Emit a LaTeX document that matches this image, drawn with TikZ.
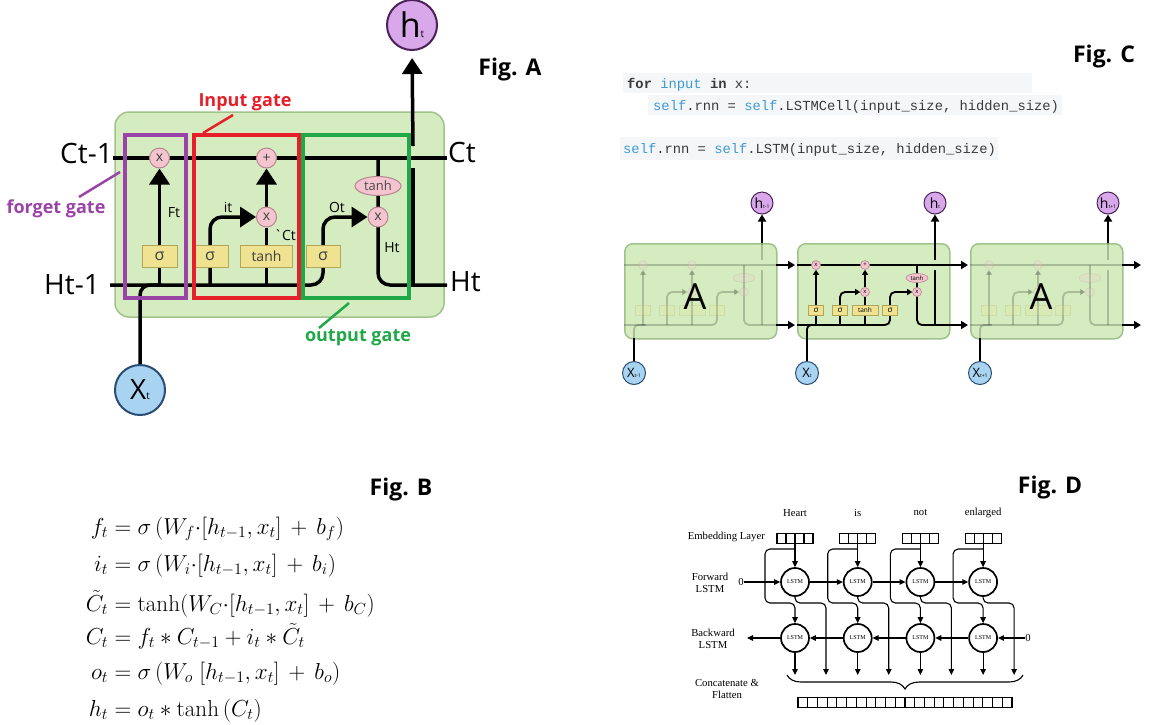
\documentclass[tikz,border=0pt]{standalone}
\usepackage{graphicx}
\usepackage{fontspec}
\newfontfamily\osans{Open Sans}
\newfontfamily\tserif{Liberation Serif}
\newfontfamily\lmono{Liberation Mono}
\usetikzlibrary{arrows.meta,shapes.geometric,decorations.pathreplacing}

\pgfdeclarelayer{paper}
\pgfdeclarelayer{cells}
\pgfdeclarelayer{wires}
\pgfsetlayers{paper,cells,wires,main}

\newcommand{\setsz}[1]{\fontsize{#1}{#1}\selectfont}
\newcommand{\hsub}[4]{{\setsz{#1}#2}{\setsz{#3}#4}}
\newcommand{\eqline}[1]{\scalebox{1.115}{\setsz{20.74}$#1$}}

\definecolor{cellfill}{HTML}{D4ECBF}
\definecolor{celledge}{HTML}{A0C38C}
\definecolor{gatepink}{HTML}{F4C4CF}
\definecolor{gatepinkedge}{HTML}{B88592}
\definecolor{layeryellow}{HTML}{EFE290}
\definecolor{layeryellowedge}{HTML}{B3A658}
\definecolor{outpurple}{HTML}{D8A8EA}
\definecolor{outpurpleedge}{HTML}{4A2258}
\definecolor{inblue}{HTML}{A8D3F1}
\definecolor{inblueedge}{HTML}{2B4C72}
\definecolor{forgetcol}{HTML}{9B44A8}
\definecolor{inputcol}{HTML}{E5202A}
\definecolor{outputcol}{HTML}{20A848}
\definecolor{codebg}{HTML}{F5F6F7}
\definecolor{codeblue}{HTML}{3C9BD6}
\definecolor{codetext}{HTML}{3A3A3A}

\tikzset{
  % large cell
  cellA/.style={fill=cellfill, draw=celledge, line width=1.5pt, rounded corners=14pt},
  wireA/.style={line width=3.5pt, black},
  tipA/.style={-{Triangle[length=16pt,width=20pt]}},
  opA/.style={circle, fill=gatepink, draw=gatepinkedge, line width=1pt, minimum size=20pt,
    inner sep=0pt, font=\osans\setsz{14}, text=black!75},
  tanhA/.style={ellipse, fill=gatepink, draw=gatepinkedge, line width=1pt, minimum width=46pt,
    minimum height=19pt, inner sep=0pt, font=\osans\setsz{13}, text=black!70},
  layerA/.style={rectangle, fill=layeryellow, draw=layeryellowedge, line width=1pt,
    minimum height=22pt, inner sep=0pt, font=\osans\setsz{16}, text=black!75},
  gateframe/.style={line width=4pt},
  biglabel/.style={font=\osans\setsz{28}, inner sep=0pt},
  smalllabel/.style={font=\osans\setsz{14}, inner sep=0pt},
  gatename/.style={font=\osans\bfseries\setsz{18}, inner sep=0pt},
  figtitle/.style={font=\osans\bfseries\setsz{23}, inner sep=0pt},
  % unrolled chain
  cellC/.style={rectangle, rounded corners=8pt, fill=cellfill, draw=celledge, line width=1.5pt,
    minimum width=152pt, minimum height=95pt, inner sep=0pt},
  wireC/.style={line width=1.8pt, black},
  tipC/.style={-{Triangle[length=7pt,width=8pt]}},
  tipCs/.style={-{Triangle[length=5pt,width=6pt]}},
  opC/.style={circle, fill=gatepink, draw=gatepinkedge, line width=0.6pt, minimum size=9pt,
    inner sep=0pt, font=\osans\setsz{6}},
  tanhC/.style={ellipse, fill=gatepink, draw=gatepinkedge, line width=0.6pt, minimum width=22pt,
    minimum height=9pt, inner sep=0pt, font=\osans\setsz{6}},
  layerC/.style={rectangle, fill=layeryellow, draw=layeryellowedge, line width=0.6pt,
    minimum height=10pt, inner sep=0pt, font=\osans\setsz{8}},
  hC/.style={circle, fill=outpurple, draw=outpurpleedge, line width=1pt, minimum size=22pt,
    inner sep=0pt, font=\osans},
  xC/.style={circle, fill=inblue, draw=inblueedge, line width=1pt, minimum size=23pt,
    inner sep=0pt, font=\osans},
  code/.style={font=\lmono\setsz{13.8}, text=codetext, inner sep=0pt},
  % equations
  eqB/.style={inner sep=0pt},
  % bidirectional network
  lineD/.style={line width=1.1pt, black},
  tipD/.style={-{Triangle[length=6pt,width=5.5pt]}},
  lstmD/.style={circle, draw, line width=1.7pt, minimum size=28pt, inner sep=0pt,
    font=\tserif\setsz{6}},
  textD/.style={font=\tserif\fontsize{10.7}{12.5}\selectfont, inner sep=0pt},
  embD/.style={rectangle, draw, line width=1.1pt, minimum width=36pt, minimum height=9.5pt, inner sep=0pt},
}

\begin{document}
\begin{tikzpicture}[x=1pt,y=-1pt]
\useasboundingbox (0,0) rectangle (1155,724);
\begin{pgfonlayer}{paper}
  \fill[white] (0,0) rectangle (1155,724);
\end{pgfonlayer}

%==================== Fig. A : one LSTM cell ====================
\begin{pgfonlayer}{cells}
  \draw[cellA] (115,112) rectangle (444,317);
\end{pgfonlayer}
\coordinate (cL) at (113,158);
\coordinate (cR) at (447,158);
\coordinate (hL) at (110,285);
\coordinate (hR) at (447,285);
\coordinate (oBot) at (413,285);
\coordinate (oGapLow) at (413,168);
\coordinate (oGapHigh) at (413,146);

\node[opA] (fx) at (159.5,158) {x};
\node[opA] (px) at (266.5,158) {+};
\node[opA] (ix) at (266.5,217) {x};
\node[opA] (ox) at (378,217) {x};
\node[tanhA] (th) at (378,186) {tanh};
\node[layerA, minimum width=35pt] (s1) at (159.5,256) {σ};
\node[layerA, minimum width=36pt] (s2) at (210,256) {σ};
\node[layerA, minimum width=52pt, font=\osans\setsz{14}] (t1) at (266.5,256) {tanh};
\node[layerA, minimum width=34pt] (s4) at (323,256) {σ};
\node[circle, fill=outpurple, draw=outpurpleedge, line width=2pt, minimum size=50pt,
  inner sep=0pt, font=\osans] (htA) at (412,25) {\hsub{34}{h}{10}{t}};
\node[circle, fill=inblue, draw=inblueedge, line width=2pt, minimum size=50pt,
  inner sep=0pt, font=\osans] (xtA) at (140,390) {\hsub{28}{X}{10}{t}};

\begin{pgfonlayer}{wires}
  \draw[wireA] (cL) -- (cR);
  \draw[wireA, rounded corners=12pt, tipA] (hL) -- (s4 |- hL) -- (s4 |- ox) -- (ox.west);
  \draw[wireA, rounded corners=12pt] (th |- cL) -- (th |- hR) -- (hR);
  \draw[wireA] (oBot) -- (oGapLow);
  \draw[wireA, tipA, shorten >=7pt] (oGapHigh) -- (htA.south);
  \draw[wireA, tipA] (fx |- hL) -- (fx.south);
  \draw[wireA, rounded corners=12pt, tipA] (s2 |- hL) -- (s2 |- ix) -- (ix.west);
  \draw[wireA] (ix |- hL) -- (ix.south);
  \draw[wireA, tipA] (ix.north) -- (px.south);
  \draw[wireA, rounded corners=10pt] (xtA.north) -- (xtA |- hL) -- ++(22,0);
\end{pgfonlayer}

% gate frames
\draw[gateframe, draw=forgetcol] (125,135) rectangle (186,298);
\draw[gateframe, draw=inputcol] (194,135) rectangle (299,298);
\draw[gateframe, draw=outputcol] (303,135) rectangle (409,298);

% gate names with their pointers
\node[gatename, text=inputcol] (igl) at (245,102) {Input gate};
\node[gatename, text=forgetcol] (fgl) at (56,209) {forget gate};
\node[gatename, text=outputcol] (ogl) at (358,338) {output gate};
\coordinate (iTip) at (233,115);  \coordinate (iEnd) at (203,133);
\coordinate (fTip) at (120,172);  \coordinate (fEnd) at (79,197);
\coordinate (oTip) at (349,303);  \coordinate (oEnd) at (319,328);
\draw[inputcol, line width=2.5pt] (iTip) -- (iEnd);
\draw[forgetcol, line width=2.5pt] (fTip) -- (fEnd);
\draw[outputcol, line width=2.5pt] (oTip) -- (oEnd);

% state labels
\node[biglabel, anchor=east] (lCprev) at (113,153) {Ct-1};
\node[biglabel, anchor=east] (lHprev) at (100,285) {Ht-1};
\node[biglabel, anchor=west] (lCnext) at (448,152) {Ct};
\node[biglabel, anchor=west] (lHnext) at (450,282) {Ht};
\node[smalllabel] (lFt) at (174,213) {Ft};
\node[smalllabel] (lit) at (228,207) {it};
\node[smalllabel] (lOt) at (337,207) {Ot};
\node[smalllabel] (lCt) at (285,235) {\textasciigrave Ct};
\node[smalllabel] (lHt) at (392,248) {Ht};
\node[figtitle] (figA) at (510,70) {Fig. A};

%==================== Fig. C : code and unrolled chain ====================
\node[figtitle] (figC) at (1104,57) {Fig. C};
\fill[codebg] (623,73) rectangle (1032,93);
\fill[codebg] (648,95) rectangle (1062,115);
\fill[codebg] (620,137) rectangle (998,160);
\node[code, anchor=base west] (code1) at (627,88)
  {\textbf{for} \textcolor{codeblue}{input} \textbf{in} x:};
\node[code, anchor=base west] (code2) at (653,110)
  {\textcolor{codeblue}{self}.rnn = \textcolor{codeblue}{self}.LSTMCell(input\_size, hidden\_size)};
\node[code, anchor=base west] (code3) at (623,153)
  {\textcolor{codeblue}{self}.rnn = \textcolor{codeblue}{self}.LSTM(input\_size, hidden\_size)};

% three unrolled cells; the outer two show their inner wiring faded
\foreach \cnm/\cxx/\cfade/\csb/\cshow in {L/624/0.2/t-1/0, M/797/1/t/1, R/970/0.2/t+1/0} {
  \begin{pgfonlayer}{cells}
    \node[cellC, anchor=north west] (\cnm-box) at (\cxx,243) {};
  \end{pgfonlayer}
  \begin{scope}[shift={(\cxx,243)}]
    \coordinate (\cnm-tl) at (0,22);
    \coordinate (\cnm-tr) at (152,22);
    \coordinate (\cnm-bl) at (0,82);
    \coordinate (\cnm-br) at (152,82);
    \coordinate (\cnm-hx) at (138,0);
    \coordinate (\cnm-xin) at (10,95);
    \node[hC] (\cnm-h) at (138,-40) {\hsub{14}{h}{5}{\csb}};
    \node[xC] (\cnm-x) at (10,130) {\hsub{13}{X}{5}{\csb}};
    \begin{scope}[opacity=\cfade]
      \node[opC] (\cnm-fx) at (19,22) {\ifnum\cshow=1 x\fi};
      \node[opC] (\cnm-px) at (68,22) {\ifnum\cshow=1 +\fi};
      \node[opC] (\cnm-ix) at (68,49) {\ifnum\cshow=1 x\fi};
      \node[opC] (\cnm-ox) at (120,49) {\ifnum\cshow=1 x\fi};
      \node[tanhC] (\cnm-th) at (120,35) {\ifnum\cshow=1 tanh\fi};
      \node[layerC, minimum width=15pt] (\cnm-s1) at (19,67) {\ifnum\cshow=1 σ\fi};
      \node[layerC, minimum width=15pt] (\cnm-s2) at (43,67) {\ifnum\cshow=1 σ\fi};
      \node[layerC, minimum width=26pt, font=\osans\setsz{6.5}] (\cnm-t1) at (68,67) {\ifnum\cshow=1 tanh\fi};
      \node[layerC, minimum width=15pt] (\cnm-s4) at (93,67) {\ifnum\cshow=1 σ\fi};
    \end{scope}
  \end{scope}
  \begin{pgfonlayer}{wires}
    \begin{scope}[opacity=\cfade]
      \draw[wireC] (\cnm-tl) -- (\cnm-tr);
      \draw[wireC, rounded corners=5pt, tipCs] (\cnm-bl) -- (\cnm-s4 |- \cnm-bl) -- (\cnm-s4 |- \cnm-ox) -- (\cnm-ox.west);
      \draw[wireC, rounded corners=5pt] (\cnm-th |- \cnm-tl) -- (\cnm-th |- \cnm-bl) -- (\cnm-br);
      \draw[wireC] (\cnm-hx |- \cnm-bl) -- ++(0,-55);
      \draw[wireC] (\cnm-hx) -- ++(0,17);
      \draw[wireC, rounded corners=4pt] (\cnm-xin) -- (\cnm-xin |- \cnm-bl) -- ++(12,0);
      \draw[wireC, tipCs] (\cnm-fx |- \cnm-bl) -- (\cnm-fx.south);
      \draw[wireC, rounded corners=5pt, tipCs] (\cnm-s2 |- \cnm-bl) -- (\cnm-s2 |- \cnm-ix) -- (\cnm-ix.west);
      \draw[wireC] (\cnm-ix |- \cnm-bl) -- (\cnm-ix.south);
      \draw[wireC, tipCs] (\cnm-ix.north) -- (\cnm-px.south);
    \end{scope}
  \end{pgfonlayer}
  \draw[wireC, tipC] (\cnm-tr) -- ++(19,0);
  \draw[wireC, tipC] (\cnm-br) -- ++(19,0);
  \draw[wireC, tipC] (\cnm-hx) -- (\cnm-h.south);
  \draw[wireC] (\cnm-x.north) -- (\cnm-xin);
}
\node[font=\osans\setsz{36}, inner sep=0pt] (aL) at (695,297) {A};
\node[font=\osans\setsz{36}, inner sep=0pt] (aR) at (1041,297) {A};

%==================== Fig. B : the equations ====================
\node[figtitle] (figB) at (401,490) {Fig. B};
\node[eqB, anchor=base west] (eq1) at (108,534)
  {\eqline{\llap{$f_t$}=\sigma\,(W_f{\cdot}[h_{t-1},x_t]\,+\,b_f)}};
\node[eqB, anchor=base west] (eq2) at (108,571)
  {\eqline{\llap{$i_t$}=\sigma\,(W_i{\cdot}[h_{t-1},x_t]\,+\,b_i)}};
\node[eqB, anchor=base west] (eq3) at (108,611)
  {\eqline{\llap{$\tilde{C}_t$}=\tanh(W_C{\cdot}[h_{t-1},x_t]\,+\,b_C)}};
\node[eqB, anchor=base west] (eq4) at (108,644)
  {\eqline{\llap{$C_t$}=f_t*C_{t-1}+i_t*\tilde{C}_t}};
\node[eqB, anchor=base west] (eq5) at (108,679)
  {\eqline{\llap{$o_t$}=\sigma\,(W_o\;[h_{t-1},x_t]\,+\,b_o)}};
\node[eqB, anchor=base west] (eq6) at (108,716)
  {\eqline{\llap{$h_t$}=o_t*\tanh\,(C_t)}};

%==================== Fig. D : bidirectional LSTM ====================
\node[figtitle] (figD) at (1050,488) {Fig. D};
\node[textD, anchor=east] (lEmb) at (765,537) {Embedding Layer};
\node[textD, align=center] (lFwd) at (710,583) {Forward\\LSTM};
\node[textD, align=center] (lBwd) at (713,639) {Backward\\LSTM};
\node[textD, align=center] (lCat) at (727,689) {Concatenate \&\\Flatten};

\foreach \i/\cx/\w in {1/795/Heart, 2/857.7/is, 3/920.4/not, 4/983.1/enlarged} {
  \node[textD] (w\i) at (\cx,513) {\w};
  \node[embD] (e\i) at (\cx,538.5) {};
  \foreach \k in {1,2,3} \draw[lineD] ({\cx-18+9*\k},533.75) -- ++(0,9.5);
  \node[lstmD] (f\i) at (\cx,582) {LSTM};
  \node[lstmD] (b\i) at (\cx,638) {LSTM};
  \coordinate (fo\i) at ({\cx+31},675);
  \coordinate (bo\i) at (\cx,675);
  \draw[lineD, tipD] (e\i.south) -- (f\i.north);
  \draw[lineD, rounded corners=5pt, tipD] (\cx,549) -- ({\cx-30},549) -- ({\cx-30},603) -- (\cx,603) -- (b\i.north);
  \draw[lineD, rounded corners=5pt, tipD] (f\i.south) -- (\cx,603) -- ({\cx+31},603) -- (fo\i);
  \draw[lineD, tipD] (b\i.south) -- (bo\i);
}
\node[textD] (zf) at (741,582) {0};
\node[textD] (zb) at (1028,638) {0};
\coordinate (bEnd) at (747,638);
\draw[lineD, tipD] (zf.east) -- (f1.west);
\draw[lineD, tipD] (f1.east) -- (f2.west);
\draw[lineD, tipD] (f2.east) -- (f3.west);
\draw[lineD, tipD] (f3.east) -- (f4.west);
\draw[lineD, tipD] (zb.west) -- (b4.east);
\draw[lineD, tipD] (b4.west) -- (b3.east);
\draw[lineD, tipD] (b3.west) -- (b2.east);
\draw[lineD, tipD] (b2.west) -- (b1.east);
\draw[lineD, tipD] (b1.west) -- (bEnd);

\coordinate (brL) at (787,675);
\coordinate (brR) at (1023,675);
\draw[lineD, decorate, decoration={brace, amplitude=14pt, mirror}] (brL) -- (brR);

\node[embD, minimum width=214pt] (flat) at (905,702.5) {};
\foreach \k in {1,...,21} \draw[lineD] ({798+\k*9.727},697.75) -- ++(0,9.5);
\end{tikzpicture}
\end{document}
